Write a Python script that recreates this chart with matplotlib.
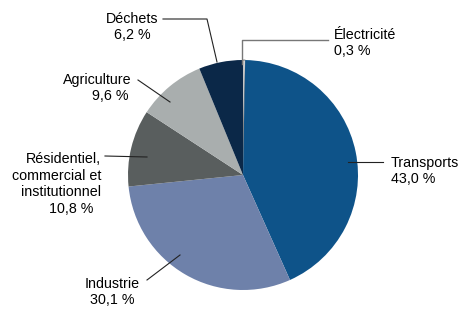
import matplotlib
matplotlib.use("Agg")
import matplotlib.pyplot as plt

# shares of emissions by sector, clockwise from the top
sectors = ["Électricité", "Transports", "Industrie",
           "Résidentiel,\ncommercial et\ninstitutionnel", "Agriculture", "Déchets"]
shares = [0.3, 43.0, 30.1, 10.8, 9.6, 6.2]
colors = ["#ffffff", "#0e5389", "#6e81aa", "#595e5e", "#a9aeae", "#0b2848"]

W, H = 467, 321
plt.rcParams["font.family"] = ["Liberation Sans", "DejaVu Sans"]

fig = plt.figure(figsize=(W / 100, H / 100), dpi=100)
ax = fig.add_axes([0, 0, 1, 1])

def Y(y):
    return H - y

wedges, _ = ax.pie(shares, colors=colors, startangle=90, counterclock=False,
                   center=(243, Y(175)), radius=115,
                   wedgeprops=dict(linewidth=0))
wedges[0].set_edgecolor("#8a8a8a")
wedges[0].set_linewidth(0.7)
ax.set_xlim(0, W)
ax.set_ylim(0, H)
ax.set_aspect("auto")
ax.axis("off")

def pct(v):
    return f"{v:.1f}".replace(".", ",") + " %"

fs = 10.3
lc = "#222222"

# Électricité
ax.plot([242, 242, 328], [Y(64), Y(40), Y(40)], color="#777777", lw=1)
ax.text(334, Y(43), sectors[0] + "\n" + pct(shares[0]), fontsize=fs,
        ha="left", va="center", linespacing=1.25)

# Transports
ax.plot([348, 383], [Y(162), Y(162)], color=lc, lw=0.8)
ax.text(391, Y(171), sectors[1] + "\n" + pct(shares[1]), fontsize=fs,
        ha="left", va="center", linespacing=1.25)

# Industrie
ax.plot([147, 180], [Y(280), Y(255)], color=lc, lw=0.8)
ax.text(112, Y(292), sectors[2] + "\n" + pct(shares[2]), fontsize=fs,
        ha="center", va="center", linespacing=1.25, multialignment="center")

# Résidentiel
ax.plot([105, 147], [Y(156), Y(157)], color=lc, lw=0.8)
ax.text(101, Y(184), sectors[3] + "\n" + pct(shares[3]) + "  ", fontsize=fs,
        ha="right", va="center", linespacing=1.25, multialignment="right")

# Agriculture
ax.plot([138, 170], [Y(80), Y(102)], color=lc, lw=0.8)
ax.text(132, Y(88), sectors[4] + "\n" + pct(shares[4]) + " ", fontsize=fs,
        ha="right", va="center", linespacing=1.25, multialignment="right")

# Déchets
ax.plot([163, 207, 217], [Y(19), Y(19), Y(62)], color=lc, lw=0.8)
ax.text(132, Y(27), sectors[5] + "\n" + pct(shares[5]), fontsize=fs,
        ha="center", va="center", linespacing=1.25, multialignment="center")

fig.savefig("out.png", dpi=100)
